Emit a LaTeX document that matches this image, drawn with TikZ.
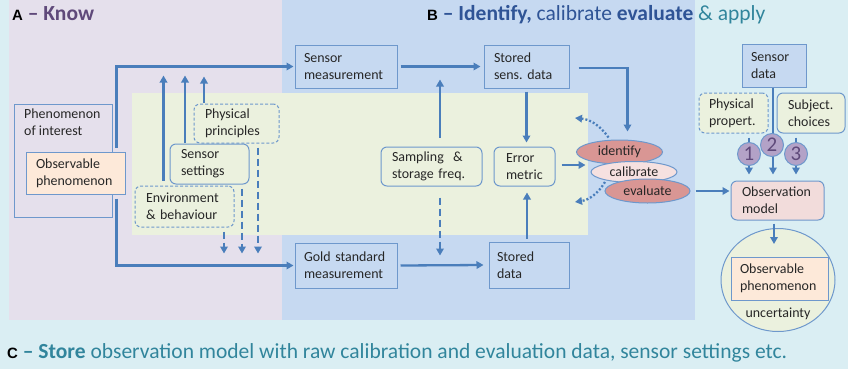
\documentclass[tikz,border=0pt]{standalone}
\usepackage{fontspec}
\setmainfont{Carlito}
\newfontfamily\hdfont{Liberation Sans}
\usetikzlibrary{arrows.meta,shapes.geometric}
\frenchspacing
\definecolor{outerbg}{HTML}{DAEEF3}
\definecolor{lavbg}{HTML}{E5E0EC}
\definecolor{bluebg}{HTML}{C6D9F1}
\definecolor{greenbg}{HTML}{EBF1DE}
\definecolor{bordc}{HTML}{6E98CC}
\definecolor{arrc}{HTML}{4A7EBB}
\definecolor{txtc}{HTML}{262626}
\definecolor{peach}{HTML}{FDE9D9}
\definecolor{pinkf}{HTML}{F2DCDB}
\definecolor{redf}{HTML}{D99694}
\definecolor{lpink}{HTML}{F6E1E0}
\definecolor{purf}{HTML}{B3A2C7}
\definecolor{purt}{HTML}{5F497A}
\definecolor{darkblue}{HTML}{2F5496}
\definecolor{tealc}{HTML}{31859C}
\begin{document}
\begin{tikzpicture}[x=1bp,y=-1bp,
  base/.style={draw=bordc, line width=1bp, font=\fontsize{14}{17}\selectfont, text=txtc, inner sep=0pt, align=left},
  box/.style={base, rectangle},
  rbox/.style={base, rounded corners=6bp},
  dbox/.style={rbox, dash pattern=on 3bp off 2bp},
  ell/.style={base, ellipse, align=center},
  num/.style={circle, draw=bordc, line width=1bp, fill=purf, minimum size=23bp, inner sep=0pt, text=purt, font=\fontsize{21}{21}\selectfont},
  arr/.style={draw=arrc, line width=2.3bp, -{Triangle[length=7bp,width=7.5bp]}},
  darr/.style={arr, dash pattern=on 7bp off 4bp},
  dotarr/.style={arr, dash pattern=on 2bp off 2bp},
  ttl/.style={anchor=base west, inner sep=0pt, font=\fontsize{21.6}{26}\selectfont},
  lett/.style={font=\hdfont\bfseries\fontsize{15}{17}\selectfont}
]
\useasboundingbox (0,0) rectangle (851,369);
% backgrounds
\fill[white] (0,0) rectangle (851,369);
\fill[outerbg] (0,0) rectangle (848,369);
\fill[lavbg] (9,0) rectangle (282,320);
\fill[bluebg] (282,0) rectangle (695,320);
\fill[greenbg] (132,93) rectangle (588,235);

% titles
\node[ttl] (tA) at (12,20) {{\hdfont\bfseries\fontsize{15}{17}\selectfont A} {\color{purt}\bfseries -- Know}};
\node[ttl] (tB) at (427,20) {{\hdfont\bfseries\fontsize{15}{17}\selectfont B} {\color{darkblue}\bfseries -- Identify,} {\color{darkblue}calibrate} {\color{darkblue}\bfseries evaluate} {\color{tealc}\& apply}};
\node[ttl] (tC) at (7,358) {{\hdfont\bfseries\fontsize{15}{17}\selectfont C} {\color{tealc}\bfseries -- Store} {\color{tealc}observation model with raw calibration and evaluation data, sensor settings etc.}};

% left panel
\node[box, fill=lavbg, minimum width=97bp, minimum height=113bp] (poi) at (63.5,160.5) {};
\node[anchor=north west, inner sep=0pt, align=left, text=txtc, font=\fontsize{14}{17}\selectfont] (poit) at (24,109) {Phenomenon\\of interest};
\node[box, fill=peach, minimum width=98bp, minimum height=42bp, text width=80bp] (obs) at (76,173) {Observable\\phenomenon};
\node[dbox, fill=greenbg, minimum width=85bp, minimum height=39bp, text width=63bp] (phys) at (236.5,123.5) {Physical\\principles};
\node[rbox, fill=greenbg, minimum width=79bp, minimum height=40bp, text width=57bp] (set) at (209.5,164) {Sensor\\settings};
\node[dbox, fill=greenbg, minimum width=99bp, minimum height=41bp, text width=77bp] (env) at (184.5,206.5) {Environment\\\& behaviour};

% middle
\node[box, fill=bluebg, minimum width=102bp, minimum height=43bp, text width=84bp] (sm) at (346,66.5) {Sensor\\measurement};
\node[box, fill=bluebg, minimum width=85bp, minimum height=43bp, text width=65bp] (ssd) at (526.5,66.5) {Stored\\sens. data};
\node[rbox, fill=greenbg, minimum width=101bp, minimum height=39bp, text width=79bp] (samp) at (431.5,166.5) {Sampling~~\&\\storage freq.};
\node[rbox, fill=greenbg, minimum width=61bp, minimum height=39bp, text width=37bp] (err) at (524.5,166.5) {Error\\metric};
\node[box, fill=bluebg, minimum width=102bp, minimum height=45bp, text width=84bp] (gold) at (346,265.5) {Gold standard\\measurement};
\node[box, fill=bluebg, minimum width=80bp, minimum height=46bp, text width=64bp] (sd) at (529,265) {Stored\\data};

\node[ell, fill=redf, minimum width=86bp, minimum height=24bp] (idf) at (619.5,152) {\raisebox{-2bp}{identify}};
\node[ell, fill=lpink, minimum width=86bp, minimum height=21bp] (cal) at (634,172) {calibrate};
\node[ell, fill=redf, minimum width=85bp, minimum height=24bp] (evl) at (647.5,191) {evaluate};

% right panel
\node[box, fill=bluebg, minimum width=64bp, minimum height=43bp, text width=46bp] (sdat) at (774,65.5) {Sensor\\data};
\node[dbox, fill=greenbg, minimum width=69bp, minimum height=40bp, text width=49bp] (pp) at (733.5,113) {Physical\\propert.};
\node[rbox, fill=greenbg, minimum width=68bp, minimum height=40bp, text width=46bp] (subj) at (811,113) {Subject.\\choices};
\node[rbox, fill=pinkf, minimum width=93bp, minimum height=39bp, text width=71bp] (om) at (777.5,200.5) {Observation\\model};
\node[ell, fill=greenbg, minimum width=114bp, minimum height=103bp] (unc) at (778,280) {};
\node[box, fill=peach, minimum width=97bp, minimum height=43bp, text width=79bp] (obs2) at (779.5,278.5) {Observable\\phenomenon};
\node[inner sep=0pt, text=txtc, font=\fontsize{14}{17}\selectfont] (unct) at (778,314) {uncertainty};

% connectors left
\draw[arr] ([shift={(-9,-4)}]obs.north east) |- ([xshift=-1bp]sm.west);
\draw[arr] ([shift={(-9,4)}]obs.south east) |- ([xshift=-1bp]gold.west);
\draw[arr] ([shift={(29,-5)}]env.north west) -- ++(0,-105);
\draw[arr] ([shift={(-24.5,-1)}]set.north) -- ++(0,-67);
\draw[arr] ([shift={(-32.5,-1)}]phys.north) -- ++(0,-26);
\draw[darr] ([shift={(39.5,4)}]env.south) -- ++(0,22);
\draw[darr] ([shift={(32.5,4)}]set.south) -- ++(0,65);
\draw[darr] ([shift={(21.5,4)}]phys.south) -- ++(0,106);

% connectors middle
\draw[arr] ([xshift=3bp]sm.east) -- ([xshift=-3bp]ssd.west);
\draw[arr] ([shift={(8.5,-9)}]samp.north) -- ++(0,-58);
\draw[darr] ([shift={(8.5,11)}]samp.south) -- ++(0,58);
\draw[arr] ([xshift=3bp]gold.east) -- ([xshift=-5bp]sd.west);
\draw[arr] ([shift={(0,3)}]ssd.south) -- ([shift={(0,-4)}]ssd.south |- err.north);
\draw[arr] ([shift={(-2,-3)}]sd.north) -- ([shift={(-2,6)}]sd.north |- err.south);
\draw[arr] ([shift={(6,-1.5)}]err.east) -- ++(24,0);
\draw[arr] ([shift={(9,1.5)}]ssd.east) -| ([shift={(8,-8)}]idf.north);
\coordinate (dotA) at (575,118);
\coordinate (dotB) at (575,202);
\draw[dotarr] ([shift={(-11,-2)}]idf.north) to[bend right=25] (dotA);
\draw[dotarr] ([shift={(-29,-1)}]cal.south) to[bend left=25] (dotB);

% connectors right
\draw[arr] ([shift={(5,0)}]evl.east) -- ([shift={(-1,0)}]evl.east -| om.west);
\draw[arr] ([shift={(15.5,4)}]pp.south) -- ([shift={(15.5,-6)}]pp.south |- om.north);
\draw[arr] ([shift={(-1,0)}]sdat.south) -- ([shift={(-1,-6)}]sdat.south |- om.north);
\draw[arr] ([shift={(-15,4)}]subj.south) -- ([shift={(-15,-6)}]subj.south |- om.north);
\draw[arr] ([shift={(-3.5,3)}]om.south) -- ([shift={(-3.5,16)}]om.south |- unc.north);
\node[num] (n1) at (749,154) {1};
\node[num] (n2) at (772,145) {2};
\node[num] (n3) at (796,154) {3};
\end{tikzpicture}
\end{document}
